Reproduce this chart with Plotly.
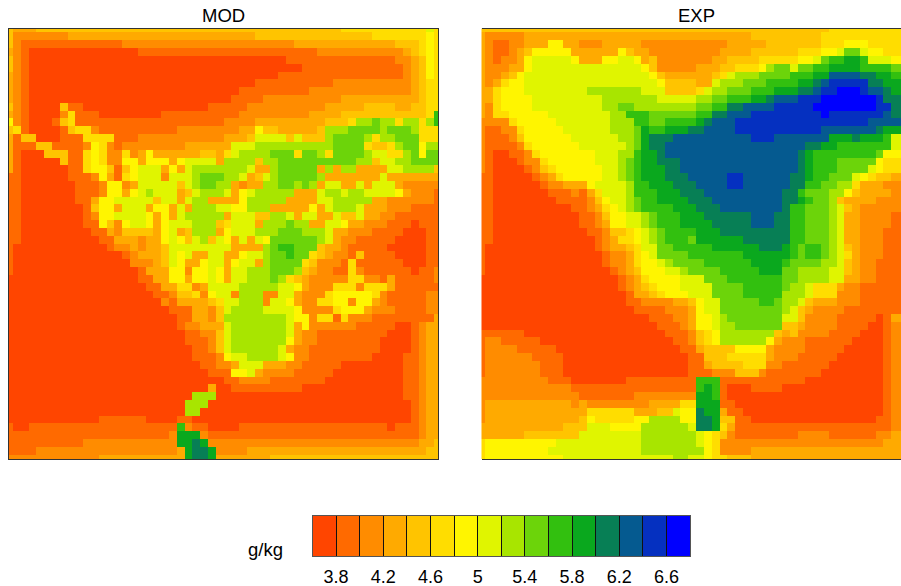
import plotly.graph_objects as go

W, H = 901, 586
H_EFF = 586
N = 56
LEVEL_COLORS = ["#FF4500", "#FF6A00", "#FF8C00", "#FFAA00", "#FFC400", "#FFDD00", "#FFF500", "#E0F500",
                "#A8E500", "#6CD40A", "#32C00F", "#0AA81E", "#077F55", "#055A90", "#0530C0", "#0000FF"]
LEGEND_MIDS = [round(3.7 + 0.2 * i, 1) for i in range(16)]
TICK_VALUES = [round(3.8 + 0.2 * i, 1) for i in range(15)]
TICK_LABELS = ["3.8", "", "4.2", "", "4.6", "", "5", "", "5.4", "", "5.8", "", "6.2", "", "6.6"]

# Each row: "level:last column of the run", level is a hex bin index (0 = lowest bin)
MOD_ROWS = [
"4:0 3:3 4:42 5:53 7:54 5:55",
"4:0 2:7 3:31 4:46 5:53 6:54 5:55",
"4:0 2:1 1:14 2:36 3:49 4:52 5:53 6:54 5:55",
"3:0 2:1 1:2 0:16 1:39 2:50 3:51 4:52 5:53 6:54 5:55",
"4:0 2:1 1:2 0:35 1:49 2:51 3:52 4:53 6:54 5:55",
"4:0 2:1 1:2 0:37 1:50 2:51 3:52 4:53 6:54 5:55",
"3:0 2:1 1:2 0:34 1:50 2:51 3:52 4:53 6:54 5:55",
"3:0 2:1 1:2 0:31 1:41 2:51 3:52 4:53 5:55",
"3:0 2:1 1:2 0:29 1:38 2:51 3:52 4:53 5:55",
"3:0 2:1 1:2 0:28 1:32 2:42 3:52 4:53 5:55",
"4:0 2:1 1:2 0:6 4:7 1:9 0:25 1:30 2:40 3:45 4:49 3:51 4:53 5:55",
"3:0 2:1 1:2 0:6 2:7 5:8 1:11 0:19 1:29 2:38 3:42 4:53 5:54 a:55",
"6:0 2:1 1:2 0:5 1:6 4:7 5:8 1:27 2:31 3:40 4:43 5:44 8:46 9:47 8:49 5:50 8:52 5:53 8:54 a:55",
"4:0 5:1 1:2 0:6 1:7 4:8 5:10 2:11 1:21 2:29 3:31 6:32 4:34 3:39 4:40 8:43 9:47 8:48 9:51 8:52 5:55",
"3:0 1:1 4:3 0:6 1:9 5:13 1:16 2:27 3:30 4:31 7:35 4:36 7:37 4:40 8:41 9:45 8:46 5:47 8:49 9:52 5:55",
"3:0 1:3 4:5 1:9 2:10 6:11 5:12 2:13 1:14 2:22 3:28 7:31 8:41 9:45 5:46 4:48 5:49 8:50 9:52 6:53 8:55",
"3:0 1:1 0:4 4:7 1:9 5:10 6:11 5:12 2:14 5:15 2:16 3:17 6:18 3:24 4:26 3:27 5:28 7:29 8:33 9:36 5:37 9:39 8:40 5:41 9:45 8:46 7:48 5:50 8:51 9:52 6:53 9:55",
"3:0 1:1 0:6 4:7 1:9 5:10 6:11 5:12 2:14 6:16 3:17 6:20 3:21 6:22 7:26 3:27 8:31 4:32 8:34 9:44 8:46 4:47 7:49 8:51 9:55",
"3:0 1:1 0:7 1:9 5:10 6:12 4:13 1:14 4:15 6:16 7:19 3:20 6:21 3:22 7:23 8:30 7:31 3:33 8:34 9:39 3:40 8:41 3:42 8:44 3:48 7:50 8:54 4:55",
"1:1 0:7 1:10 2:11 6:12 3:13 1:14 5:15 6:16 7:19 2:20 7:23 8:24 9:27 8:29 7:30 3:31 4:32 7:33 8:34 9:39 8:40 3:47 7:48 3:55",
"1:1 0:8 1:11 2:12 6:14 2:15 3:16 7:21 4:22 7:23 8:24 9:26 8:28 3:29 2:30 3:32 8:34 9:36 8:37 9:38 8:39 3:40 7:42 3:44 7:45 3:46 7:49 3:50 2:55",
"1:1 0:8 1:11 2:12 6:14 3:15 6:16 7:17 8:18 7:21 3:22 4:23 7:24 8:27 7:28 3:29 6:30 7:31 8:36 3:39 7:40 8:42 7:43 8:45 7:49 6:50 3:51 2:54 1:55",
"1:1 0:8 1:10 3:11 6:13 7:18 4:19 7:21 3:22 7:23 8:25 3:29 6:30 8:35 3:39 7:41 8:46 3:48 2:54 1:55",
"1:1 0:9 1:10 4:11 6:13 3:14 7:17 3:18 6:20 3:21 7:22 3:23 8:26 7:28 6:30 8:33 3:38 6:39 3:40 7:41 8:44 7:45 3:48 2:51 1:55",
"1:1 0:9 1:10 2:11 6:13 7:17 6:18 3:19 6:20 3:21 7:22 8:27 3:28 7:31 4:33 8:35 7:36 3:37 7:39 3:41 7:42 4:44 7:45 3:47 2:49 1:55",
"1:1 0:9 1:11 6:12 4:13 2:14 6:15 7:17 6:18 3:19 6:20 7:23 8:26 4:27 5:28 7:31 3:32 8:35 9:36 8:38 3:40 7:42 6:43 3:45 2:48 1:51 0:52 1:55",
"1:1 0:10 1:12 3:13 2:14 4:18 3:19 6:20 7:21 3:22 4:23 8:26 3:27 6:28 7:31 8:34 9:37 8:40 7:41 3:43 2:46 1:50 0:53 1:55",
"1:1 0:11 1:13 3:16 2:17 3:19 6:20 7:21 6:22 4:23 7:24 8:25 4:26 7:27 6:28 3:29 7:30 3:31 7:32 6:33 9:39 8:40 7:41 3:42 2:44 1:49 0:53 1:55",
"1:0 0:12 1:13 2:15 3:16 2:17 3:19 4:20 7:28 3:32 8:33 9:34 a:36 9:39 4:40 3:42 2:43 1:48 0:53 1:55",
"1:0 0:14 1:15 2:16 3:19 4:20 7:21 6:22 7:23 3:25 7:27 3:29 6:30 7:32 8:33 9:35 a:36 9:38 5:39 4:40 3:41 2:43 1:44 4:45 1:49 0:53 1:55",
"1:0 0:15 2:18 3:19 4:20 7:21 6:22 3:24 6:25 7:27 3:28 6:29 7:31 3:32 8:33 9:37 5:38 4:39 2:42 1:43 5:44 1:50 0:53 1:55",
"1:0 0:16 1:17 3:20 6:22 2:23 6:25 7:26 6:27 3:28 7:30 8:33 9:36 8:37 4:38 3:39 2:41 1:43 5:44 2:45 1:51 0:52 1:54 2:55",
"0:16 1:18 3:20 6:22 3:23 6:25 7:26 6:27 3:28 7:30 8:33 9:34 8:35 5:36 4:37 3:38 2:43 5:45 2:47 1:48 3:49 1:54 2:55",
"0:17 1:19 3:21 5:23 2:24 3:25 7:29 8:34 7:36 6:37 3:38 2:41 5:44 2:45 5:48 3:49 1:55",
"0:18 1:20 2:21 4:23 5:24 2:25 6:26 7:28 2:29 8:32 2:34 7:36 3:37 2:40 5:41 6:46 5:47 2:48 1:53 2:55",
"0:19 2:20 1:21 3:25 4:26 5:27 7:29 8:32 2:33 7:35 6:36 3:37 2:39 5:41 6:43 2:44 6:46 3:47 2:48 1:53 2:55",
"0:20 1:23 3:25 2:26 4:27 7:28 8:32 7:36 6:37 2:41 5:42 6:45 3:46 2:49 1:53 2:55",
"0:21 1:23 3:25 2:26 4:27 8:35 7:36 6:38 2:39 5:41 1:42 5:43 2:46 1:54 3:55",
"0:21 1:22 2:24 3:27 7:28 8:35 7:36 3:37 6:38 2:44 1:49 0:51 1:52 2:53 3:55",
"0:22 1:24 2:26 4:27 7:28 8:35 7:36 3:37 2:39 1:48 0:51 1:52 2:53 3:55",
"0:22 1:25 2:26 4:27 7:28 8:35 6:36 3:37 2:39 1:47 0:51 1:52 2:53 3:55",
"0:23 1:25 2:26 4:27 7:28 8:34 7:35 3:36 2:38 1:47 0:51 1:52 2:53 3:55",
"0:23 1:26 2:27 6:28 7:30 8:34 7:35 6:36 2:38 1:46 0:50 1:52 2:53 3:55",
"0:24 1:26 2:28 3:29 7:32 3:35 2:37 1:42 0:50 1:52 2:53 3:55",
"0:25 1:28 6:30 7:31 3:32 2:36 1:41 0:50 1:52 2:53 3:55",
"0:27 1:29 2:33 1:40 0:50 1:52 2:53 3:55",
"0:25 3:26 0:28 1:37 0:50 1:52 2:53 3:55",
"0:23 8:26 0:50 1:52 2:53 3:55",
"0:22 8:25 0:51 1:52 2:53 3:55",
"0:22 8:24 0:51 1:52 2:53 3:55",
"0:11 1:17 0:21 1:23 0:51 1:52 2:53 3:55",
"1:0 0:2 1:21 a:22 2:23 1:25 0:29 1:48 0:49 1:52 2:53 3:55",
"1:20 2:21 b:24 2:25 1:52 2:53 3:55",
"1:9 2:21 b:23 c:24 b:25 2:52 3:54 4:55",
"1:3 2:21 3:22 b:23 c:25 b:26 2:30 3:53 4:55",
"2:11 3:22 b:23 c:25 b:26 3:33 4:55",
]

EXP_ROWS = [
"4:44 5:53",
"3:0 2:5 3:34 4:43 5:53",
"3:0 2:1 1:3 2:5 3:8 6:10 3:12 2:15 3:20 2:31 3:36 4:43 5:46 6:49 5:53",
"3:0 2:1 1:3 2:4 3:5 4:6 6:11 3:17 6:18 4:19 3:21 2:30 3:34 4:40 5:43 6:45 7:46 9:48 7:49 6:51 5:53",
"3:0 2:1 1:2 2:4 3:5 6:6 7:11 6:12 3:15 6:17 7:19 6:20 3:21 4:22 2:29 3:31 4:35 5:40 6:42 7:43 9:44 a:46 b:48 a:49 7:52 6:53",
"3:0 2:3 3:5 6:6 7:20 6:21 4:22 2:27 3:30 4:32 5:35 6:36 8:37 9:39 7:40 9:42 a:44 b:48 a:52 9:53",
"3:0 2:2 3:3 4:4 6:5 7:21 6:22 4:23 3:29 4:30 5:31 7:32 8:35 9:39 a:42 b:44 d:48 c:50 b:52 a:53",
"3:0 2:1 3:2 5:3 6:5 7:22 6:23 4:27 3:29 7:30 8:33 9:36 a:40 b:42 c:43 d:44 e:49 c:51 b:53",
"3:1 5:2 6:5 7:13 8:20 7:23 4:27 5:28 7:29 8:31 9:34 a:37 b:40 c:42 d:43 e:45 f:48 e:49 d:51 c:52 b:53",
"3:1 5:2 6:6 7:15 8:22 7:27 8:29 9:31 a:34 b:36 c:37 d:40 e:43 f:50 e:51 c:53",
"3:0 2:1 5:2 6:6 7:15 8:17 9:19 8:27 9:29 a:31 c:33 d:37 e:42 f:50 e:52 c:53",
"3:0 2:1 5:3 6:8 7:16 8:18 a:21 9:27 a:29 c:31 d:34 e:43 f:44 e:51 d:52 c:53",
"2:3 5:4 6:9 7:16 8:19 a:21 9:23 a:27 b:28 c:29 d:32 e:49 d:53",
"2:0 1:2 2:4 5:5 6:10 7:16 8:19 9:20 b:21 a:23 b:26 c:28 d:32 e:43 d:50 c:51 b:53",
"2:0 1:3 2:4 4:5 6:11 7:17 8:19 9:20 b:21 c:24 d:34 e:37 d:44 b:47 c:48 b:51 a:52 7:53",
"2:0 1:4 2:5 5:6 6:12 7:18 8:19 9:20 b:21 c:23 d:41 c:43 b:45 a:52 7:53",
"2:0 1:1 0:3 1:5 2:6 5:7 6:14 7:17 8:19 a:20 b:22 c:23 d:40 c:41 b:42 a:50 9:51 6:53",
"2:0 1:1 0:4 1:5 2:7 5:8 6:14 7:17 8:18 9:19 a:20 b:22 c:25 d:40 c:41 b:42 a:45 9:50 6:51 5:53",
"2:0 1:1 0:5 1:6 2:7 4:8 5:9 6:15 7:17 8:18 9:19 a:20 b:23 c:25 d:40 c:41 b:42 a:45 9:49 7:50 6:51 5:53",
"1:1 0:6 1:7 2:8 3:9 5:10 6:15 7:17 8:18 9:19 a:20 b:23 c:26 d:31 e:33 d:39 c:41 b:42 a:44 9:47 7:48 6:49 5:50 4:52 3:53",
"1:1 0:7 1:8 2:10 3:13 6:14 7:18 8:19 a:21 b:24 c:27 d:31 e:33 d:39 c:41 a:43 9:45 8:47 5:48 3:51 2:53",
"1:1 0:8 1:11 2:12 1:13 3:14 5:15 7:18 8:19 a:22 b:25 c:28 d:38 c:40 a:41 9:44 8:46 6:47 4:48 3:52 2:53",
"1:1 0:9 1:13 2:14 4:15 6:16 7:18 8:19 9:20 a:22 b:26 c:29 d:38 c:40 b:41 a:42 9:44 8:45 4:46 3:50 2:53",
"1:1 0:11 1:13 2:14 3:15 5:16 6:17 7:18 8:19 9:20 a:24 b:27 c:30 d:38 c:39 a:41 9:44 8:45 7:46 4:47 3:48 2:53",
"1:1 0:12 1:14 2:15 4:16 6:18 7:20 8:21 9:22 a:25 b:28 c:34 d:37 c:39 a:41 9:44 8:45 7:46 3:48 2:52 1:53",
"1:1 0:12 1:14 2:15 3:16 6:18 7:20 8:21 9:22 a:25 b:29 c:34 d:37 c:39 a:41 9:44 8:45 7:46 3:48 2:52 1:53",
"1:1 0:13 1:15 2:16 4:18 5:19 6:20 7:21 8:22 9:23 a:27 b:30 c:39 a:41 9:44 8:45 7:46 3:48 2:51 1:53",
"1:1 0:14 1:15 2:16 3:17 5:19 6:20 7:21 8:22 9:23 a:26 9:27 b:33 c:39 a:41 9:44 8:45 7:46 3:48 2:51 1:53",
"1:0 0:14 1:15 2:16 3:18 4:19 5:20 7:22 9:24 a:29 b:35 c:38 b:39 a:40 9:41 a:43 9:44 8:45 7:46 4:47 3:48 2:51 1:53",
"1:0 0:15 1:16 2:18 3:19 5:20 6:21 7:22 9:26 a:33 b:39 a:40 9:41 a:43 9:44 8:45 7:46 5:47 3:48 2:51 1:53",
"1:0 0:15 1:16 2:18 3:19 5:20 6:22 7:23 8:24 9:28 a:34 b:38 a:39 9:43 8:45 7:46 4:47 3:48 2:50 1:53",
"1:0 0:16 1:17 2:18 3:19 4:20 6:23 7:25 8:26 9:30 a:35 b:38 9:40 8:44 7:46 4:47 3:48 2:50 1:53",
"0:17 1:18 2:19 3:20 5:21 6:25 7:28 9:31 a:38 9:40 8:44 7:46 3:48 2:50 1:53",
"0:17 1:18 2:19 3:20 4:21 5:22 6:25 7:29 9:33 a:38 9:39 8:41 7:42 5:45 3:46 2:48 1:53",
"0:18 1:19 3:21 4:22 5:23 6:26 7:29 9:33 a:38 8:41 7:42 5:45 2:48 1:53",
"0:18 1:20 2:24 3:26 4:27 6:28 7:30 9:35 a:37 9:38 8:40 7:41 4:42 3:45 2:48 1:53",
"0:19 1:23 2:26 3:27 6:28 7:30 9:38 8:39 7:40 4:41 3:42 2:46 1:53",
"0:21 1:24 2:26 3:27 6:29 7:30 8:31 9:38 7:40 4:41 2:45 1:50 0:51 1:52 3:53",
"0:22 1:25 2:26 3:27 6:29 7:30 8:32 9:38 4:40 3:41 2:45 1:49 0:51 1:52 2:53",
"1:5 0:23 1:26 2:27 4:28 5:29 6:30 8:37 4:38 3:39 4:40 2:44 1:48 0:51 1:52 2:53",
"1:0 2:2 1:7 0:24 1:26 2:27 4:28 5:29 6:30 8:36 6:37 3:38 2:41 1:47 0:51 1:52 2:53",
"1:0 2:4 1:9 0:25 1:27 3:28 4:32 6:36 3:37 2:41 1:46 0:51 1:52 2:53",
"1:0 2:6 1:10 0:26 1:28 4:31 5:36 3:37 2:40 1:45 0:51 1:52 2:53",
"1:0 2:7 1:10 0:26 1:28 3:29 4:33 5:36 2:38 1:44 0:51 1:52 2:53",
"1:0 2:7 1:10 0:26 1:29 2:32 4:35 2:36 1:43 0:51 1:52 2:53",
"2:8 1:11 0:18 1:27 a:30 1:41 0:51 1:52 2:53",
"2:11 1:27 a:28 b:29 a:30 1:31 0:34 1:38 0:51 1:52 2:53",
"2:12 1:19 2:27 b:29 a:30 1:31 0:51 1:52 2:53",
"2:0 3:11 2:12 3:13 2:21 3:25 5:27 b:30 1:32 0:51 1:52 2:53",
"2:0 3:13 5:19 3:22 4:24 7:25 6:27 c:28 b:30 3:31 1:33 0:51 1:52 2:53",
"2:0 3:12 4:13 6:14 5:19 6:21 8:25 6:27 c:29 b:30 4:32 1:34 0:50 1:52 2:53",
"3:10 4:13 7:16 6:20 8:26 7:27 c:29 b:30 5:31 3:32 1:52 2:53",
"3:5 4:12 7:20 8:27 7:28 6:29 5:30 4:31 2:32 1:40 2:44 1:50 2:52 3:53",
"5:0 6:9 7:20 8:27 7:28 6:29 5:30 2:51 3:53",
"5:0 6:8 7:20 8:28 6:29 5:30 2:34 3:53",
"5:0 6:10 7:24 8:26 7:28 6:29 5:31 4:34 3:53",
]


def decode(rows):
    grid = []
    for row in rows:
        out = []
        level = 0
        for tok in row.split():
            lv, end = tok.split(":")
            level = int(lv, 16)
            while len(out) <= int(end):
                out.append(round(3.7 + 0.2 * level, 1))
        while len(out) < N:
            out.append(round(3.7 + 0.2 * level, 1))
        grid.append(out[:N])
    return grid


mod_z = decode(MOD_ROWS)
exp_z = decode(EXP_ROWS)

scale = []
for i, c in enumerate(LEVEL_COLORS):
    scale.append([i / 16, c])
    scale.append([(i + 1) / 16, c])

common = dict(colorscale=scale, zmin=3.6, zmax=6.8, showscale=False, hoverongaps=False)
cols = list(range(N))

fig = go.Figure()
fig.add_trace(go.Heatmap(z=mod_z, x=cols, y=cols, xaxis="x", yaxis="y", **common))
fig.add_trace(go.Heatmap(z=exp_z, x=cols, y=cols, xaxis="x2", yaxis="y2", **common))
fig.add_trace(go.Heatmap(z=[LEGEND_MIDS], x=LEGEND_MIDS, y=[0], xaxis="x3", yaxis="y3", **common))

FONT = "Liberation Sans, Arial, sans-serif"
TXT = dict(family=FONT, size=18.5, color="black")
frame = dict(showline=True, linecolor="#333333", linewidth=1, showgrid=False, zeroline=False,
             showticklabels=False, ticks="")

y_dom = [1 - 459 / H_EFF, 1 - 28.5 / H_EFF]
cell_x = 429 / 55
fig.update_layout(
    width=W, height=H, autosize=False,
    margin=dict(l=0, r=0, t=0, b=0),
    paper_bgcolor="white", plot_bgcolor="white",
    font=TXT,
    xaxis=dict(domain=[9 / W, 438 / W], range=[0, 55], mirror=True, **frame),
    yaxis=dict(domain=y_dom, range=[55, 0], mirror=True, **frame),
    xaxis2=dict(domain=[481.5 / W, 1], range=[0, (W - 481.5) / cell_x], mirror=True, **frame),
    yaxis2=dict(domain=y_dom, range=[55, 0], mirror=False, **frame),
    xaxis3=dict(domain=[312.5 / W, 690 / W], range=[3.6, 6.8], anchor="y3", side="bottom",
                automargin=False,
                showline=True, mirror=True, linecolor="#555555", linewidth=1,
                showgrid=False, zeroline=False, tickmode="array",
                tickvals=TICK_VALUES, ticktext=TICK_LABELS,
                ticks="inside", ticklen=40, tickcolor="#111111", tickwidth=1,
                ticklabelstandoff=4, tickfont=dict(family=FONT, size=18, color="black")),
    yaxis3=dict(domain=[1 - 556 / H_EFF, 1 - 516 / H_EFF], range=[-0.5, 0.5], anchor="x3",
                showline=True, mirror=True, linecolor="#555555", linewidth=1,
                showgrid=False, zeroline=False, showticklabels=False, ticks=""),
    annotations=[
        dict(text="MOD", x=223.5 / W, y=1 - 16 / H_EFF, xref="paper", yref="paper", showarrow=False,
             xanchor="center", yanchor="middle", font=TXT),
        dict(text="EXP", x=696 / W, y=1 - 16 / H_EFF, xref="paper", yref="paper", showarrow=False,
             xanchor="center", yanchor="middle", font=TXT),
        dict(text="g/kg", x=265 / W, y=1 - 549 / H_EFF, xref="paper", yref="paper", showarrow=False,
             xanchor="center", yanchor="middle", font=TXT),
    ],
)

fig.write_html("out.html", config=dict(displayModeBar=False),
               post_script="document.body.style.margin='0';document.documentElement.style.overflow='hidden';")
